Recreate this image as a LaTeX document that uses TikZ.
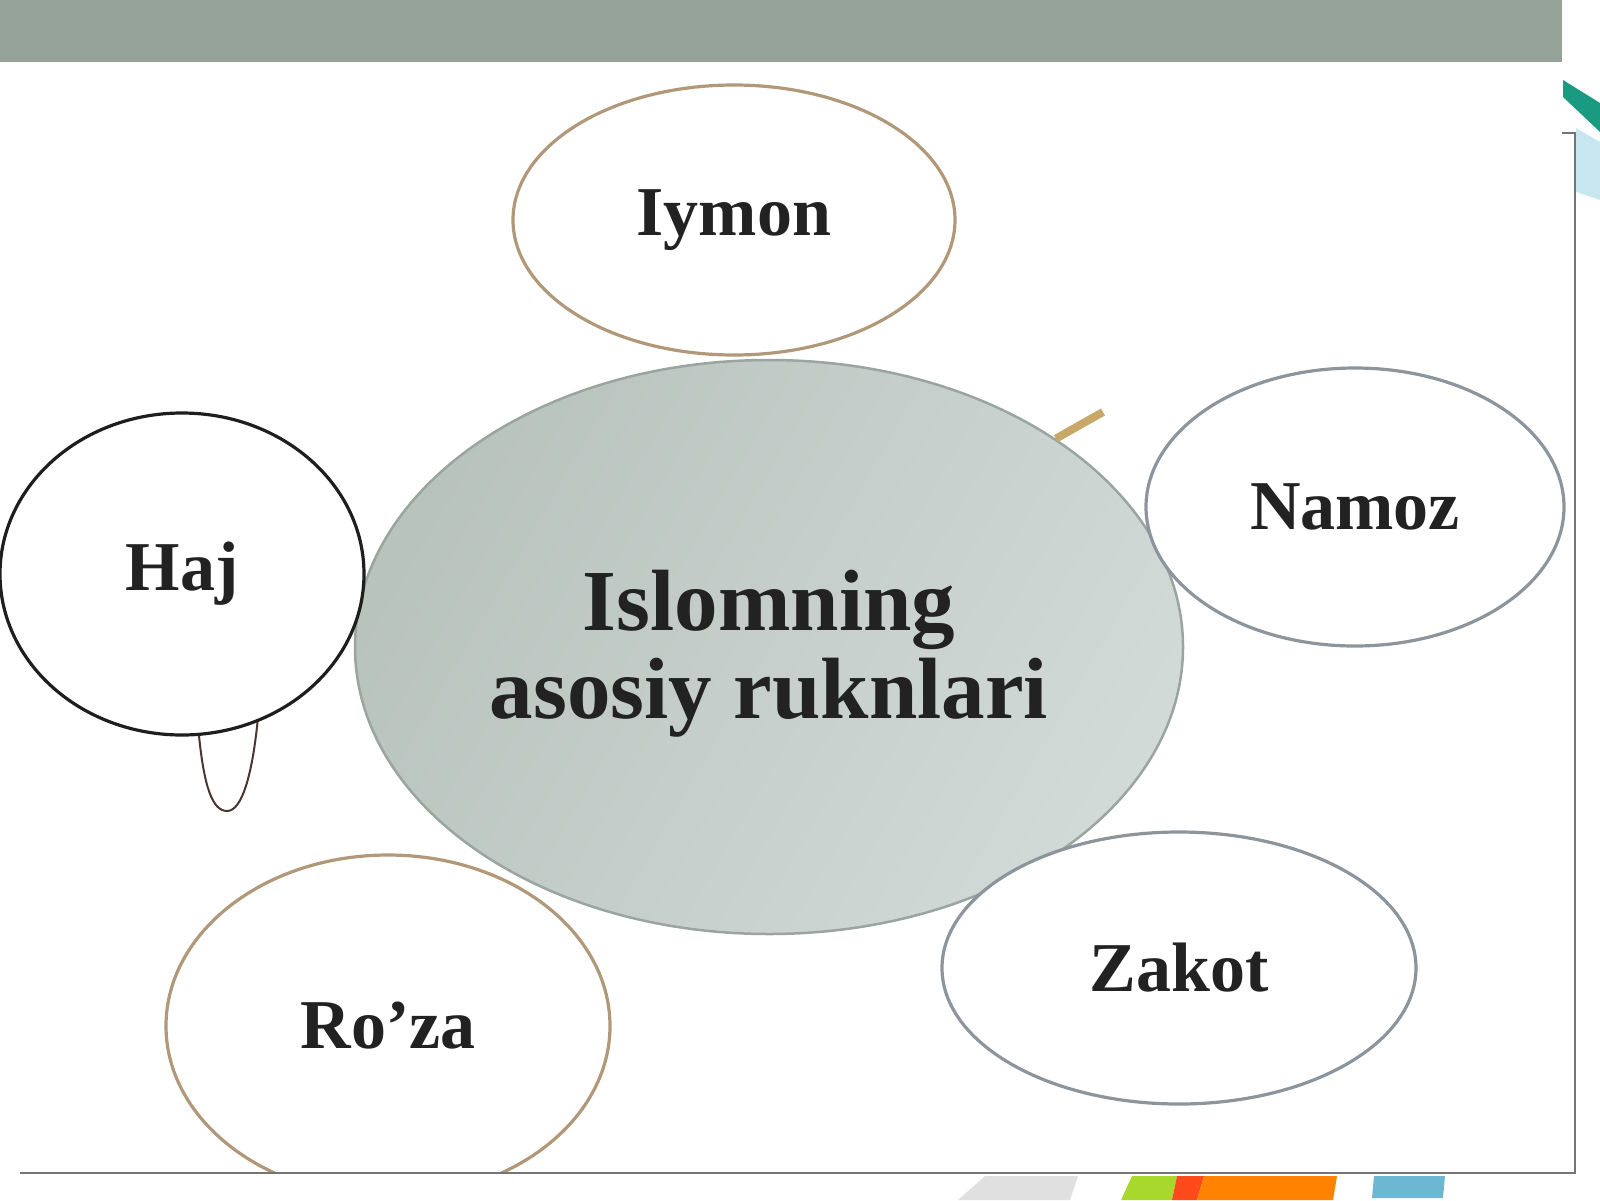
\documentclass[tikz,border=0pt]{standalone}
\usepackage{fontspec}
\setmainfont{Liberation Serif}
\usetikzlibrary{shapes.geometric}
\definecolor{barcol}{HTML}{95A398}
\definecolor{tancol}{HTML}{B09878}
\definecolor{greycol}{HTML}{8C949C}
\definecolor{hajcol}{HTML}{1E1E1E}
\definecolor{tailcol}{HTML}{4A3530}
\definecolor{txtcol}{HTML}{222222}
\definecolor{islomA}{HTML}{B9C3BE}
\definecolor{islomB}{HTML}{D2DAD7}
\definecolor{islomedge}{HTML}{9AA5A0}
\definecolor{stubcol}{HTML}{C8A868}
\definecolor{framecol}{HTML}{757575}
\definecolor{tealcol}{HTML}{1A9A80}
\definecolor{skycol}{HTML}{C8E6F0}
\definecolor{limecol}{HTML}{A8D82B}
\definecolor{redcol}{HTML}{FF4A1C}
\definecolor{orangecol}{HTML}{FF8200}
\definecolor{bluecol}{HTML}{6CB8D2}
\begin{document}
\begin{tikzpicture}[x=1pt,y=-1pt]
\tikzstyle{rukn}=[ellipse,draw,fill=white,line width=3.2pt,inner sep=0pt,text=txtcol,font=\fontsize{70}{72}\selectfont\bfseries]
\useasboundingbox (0,0) rectangle (1600,1200);
% top bar and corner decoration
\fill[barcol] (0,0) rectangle (1562,62);
\fill[tealcol] (1563,80) -- (1600,103) -- (1600,132) -- (1563,97) -- cycle;
\fill[skycol] (1576,128) -- (1600,142) -- (1600,200) -- (1576,192) -- cycle;
% centre
\node[rukn,draw=islomedge,left color=islomA,right color=islomB,shading angle=60,line width=2.5pt,minimum width=828,minimum height=574] (islom) at (769,647) {};
\node[text=txtcol,align=center,font=\fontsize{87}{88}\selectfont\bfseries] (islomtext) at ([yshift=-7pt]islom.center) {Islomning\\asosiy ruknlari};
\coordinate (stubend) at (1103,412);
\draw[stubcol,line width=8pt] (islom.36) -- (stubend);
% the five pillars
\node[rukn,draw=tancol,minimum width=442,minimum height=270] (iymon) at (734,220) {Iymon};
\node[rukn,draw=greycol,minimum width=418,minimum height=278] (namoz) at (1355,507) {Namoz};
\node[rukn,draw=hajcol,minimum width=364,minimum height=322] (haj) at (182,574) {Haj};
\coordinate (tailtip) at (227,811);
\draw[tailcol,line width=2pt] (haj.-84) .. controls (204,785) and (212,811) .. (tailtip)
  .. controls (242,811) and (252,775) .. (haj.-63);
\node[rukn,draw=greycol,minimum width=474,minimum height=272] (zakot) at (1179,968) {Zakot};
\begin{scope}
\clip (0,0) rectangle (1600,1173);
\node[rukn,draw=tancol,minimum width=444,minimum height=342] (roza) at (388,1026) {Ro’za};
\end{scope}
% frame
\draw[framecol,line width=2pt] (20,1173) -- (1575,1173) -- (1575,133) -- (1562,133);
% bottom stripes
\fill[black!12] (958,1200) -- (985,1176) -- (1078,1176) -- (1070,1200) -- cycle;
\fill[limecol] (1121,1200) -- (1132,1176) -- (1177,1176) -- (1172,1200) -- cycle;
\fill[redcol] (1172,1200) -- (1177,1176) -- (1204,1176) -- (1197,1200) -- cycle;
\fill[orangecol] (1197,1200) -- (1204,1176) -- (1337,1176) -- (1333,1200) -- cycle;
\fill[bluecol] (1372,1198) -- (1374,1176) -- (1445,1176) -- (1443,1198) -- cycle;
\end{tikzpicture}
\end{document}
